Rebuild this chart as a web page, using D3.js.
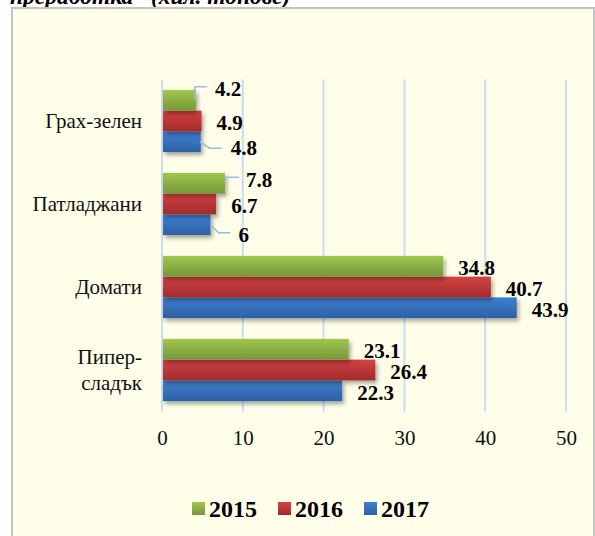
<!DOCTYPE html>
<html>
<head>
<meta charset="utf-8">
<script src="https://d3js.org/d3.v7.min.js"></script>
<title>Chart</title>
<style>
  body { margin: 0; background: #fff; }
  svg text { font-family: "Liberation Serif", "Times New Roman", "DejaVu Serif", serif; }
</style>
</head>
<body>
<div id="chart"></div>
<script>
// data
var categories = ["Грах-зелен", "Патладжани", "Домати", "Пипер-сладък"];
var years = ["2015", "2016", "2017"];
var v2015 = [4.2, 7.8, 34.8, 23.1];
var v2016 = [4.9, 6.7, 40.7, 26.4];
var v2017 = [4.8, 6, 43.9, 22.3];
var xTicks = [0, 10, 20, 30, 40, 50];

var width = 595, height = 536;

var svg = d3.select("#chart").append("svg")
    .attr("width", width)
    .attr("height", height);

var defs = svg.append("defs");

// colour gradients for the bars (top lighter, bottom darker)
var grads = {
  "2015": ["#a0c74d", "#77973a"],
  "2016": ["#d44242", "#a22b2b"],
  "2017": ["#3f80d2", "#2e60a2"]
};
years.forEach(function(y) {
  var g = defs.append("linearGradient")
      .attr("id", "g" + y)
      .attr("x1", 0).attr("y1", 0).attr("x2", 0).attr("y2", 1);
  g.append("stop").attr("offset", "0%").attr("stop-color", grads[y][0]);
  g.append("stop").attr("offset", "100%").attr("stop-color", grads[y][1]);
});

var shadow = defs.append("filter").attr("id", "shadow")
    .attr("x", "-5%").attr("y", "-20%").attr("width", "120%").attr("height", "160%");
shadow.append("feDropShadow")
    .attr("dx", 2).attr("dy", 3)
    .attr("stdDeviation", 2)
    .attr("flood-color", "#000")
    .attr("flood-opacity", 0.35);

// header text, cut off at the top of the picture
svg.append("text")
    .attr("x", 10)
    .attr("y", 4)
    .attr("font-size", 23.5)
    .attr("font-weight", "bold")
    .attr("font-style", "italic")
    .text("преработка\u201D (хил. тонове)");

// chart frame
svg.append("rect")
    .attr("x", 12).attr("y", 8)
    .attr("width", 582).attr("height", 540)
    .attr("fill", "#fefee9")
    .attr("stroke", "#c3c3c3")
    .attr("stroke-width", 2);

// scales
var x = d3.scaleLinear().domain([0, 50]).range([162, 566]);
var y = d3.scaleBand().domain(categories).range([79.5, 411.5])
    .paddingInner(0.25).paddingOuter(0.125);
var ySub = d3.scaleBand().domain(years).range([0, y.bandwidth()]);

// grid lines
svg.append("g")
  .selectAll("line")
  .data(xTicks)
  .join("line")
    .attr("x1", function(d) { return x(d); })
    .attr("x2", function(d) { return x(d); })
    .attr("y1", 79.5)
    .attr("y2", 411.5)
    .attr("stroke", "#c9dcf2")
    .attr("stroke-width", 2);

// x axis tick labels
var xAxis = svg.append("g")
    .attr("transform", "translate(0,411)")
    .call(d3.axisBottom(x).tickValues(xTicks).tickSize(0).tickPadding(19));
xAxis.select(".domain").remove();
xAxis.attr("font-size", 21);
xAxis.selectAll("text").attr("fill", "#111");

// y axis category labels (two lines where there is a hyphen)
var yAxis = svg.append("g")
    .attr("transform", "translate(162,0)")
    .call(d3.axisLeft(y).tickSize(0).tickPadding(20));
yAxis.select(".domain").remove();
yAxis.attr("font-size", 21);
yAxis.selectAll("text")
    .attr("fill", "#111")
    .each(function(d) {
      var t = d3.select(this);
      if (d === "Пипер-сладък") {
        t.text(null);
        t.append("tspan").attr("x", -20).attr("dy", "-0.3em").text("Пипер-");
        t.append("tspan").attr("x", -20).attr("dy", "1.25em").text("сладък");
      }
    });

// rows of bars
var rows = [];
years.forEach(function(yr, si) {
  var vals = [v2015, v2016, v2017][si];
  categories.forEach(function(c, ci) {
    rows.push({ cat: c, year: yr, value: vals[ci] });
  });
});

// draw bottom series first so the shadows sit under the next bar
svg.append("g")
  .selectAll("rect")
  .data(rows.slice().reverse())
  .join("rect")
    .attr("x", x(0) + 1)
    .attr("y", function(d) { return y(d.cat) + ySub(d.year); })
    .attr("width", function(d) { return x(d.value) - x(0) - 1; })
    .attr("height", ySub.bandwidth())
    .attr("fill", function(d) { return "url(#g" + d.year + ")"; })
    .attr("filter", "url(#shadow)");

// label nudges for the small bars (with leader lines)
var nudge = {
  "Грах-зелен|2015": { dx: 19, dy: -12, leader: [[-1, 0], [-1, -13.5], [11, -13.5]] },
  "Грах-зелен|2017": { dx: 30, dy: 6, leader: [[-1, 0], [9, 6.5], [21, 6.5]] },
  "Патладжани|2015": { dx: 21, dy: -4, leader: [[0, -2], [1, -6], [14, -6]] },
  "Патладжани|2017": { dx: 28, dy: 10, leader: [[0, 0], [8, 8], [20, 8]] }
};

var lab = svg.append("g");
rows.forEach(function(d) {
  var xe = x(d.value);
  var yc = y(d.cat) + ySub(d.year) + ySub.bandwidth() / 2;
  var n = nudge[d.cat + "|" + d.year] || { dx: 15, dy: 1.5 };
  if (n.leader) {
    lab.append("polyline")
        .attr("points", n.leader.map(function(p) { return [xe + p[0], yc + p[1]]; }).join(" "))
        .attr("fill", "none")
        .attr("stroke", "#9bbbe0")
        .attr("stroke-width", 1.5);
  }
  lab.append("text")
      .attr("x", xe + n.dx)
      .attr("y", yc + n.dy)
      .attr("dy", "0.35em")
      .attr("font-size", 21)
      .attr("font-weight", "bold")
      .attr("fill", "#000")
      .text(d.value);
});

// legend
var legend = svg.append("g").attr("transform", "translate(192,502)");
var lx = 0;
years.forEach(function(yr) {
  var item = legend.append("g").attr("transform", "translate(" + lx + ",0)");
  item.append("rect")
      .attr("width", 13).attr("height", 13)
      .attr("fill", "url(#g" + yr + ")");
  item.append("text")
      .attr("x", 17)
      .attr("y", 7)
      .attr("dy", "0.35em")
      .attr("font-size", 24)
      .attr("font-weight", "bold")
      .attr("fill", "#000")
      .text(yr);
  lx += 86;
});
</script>
</body>
</html>
